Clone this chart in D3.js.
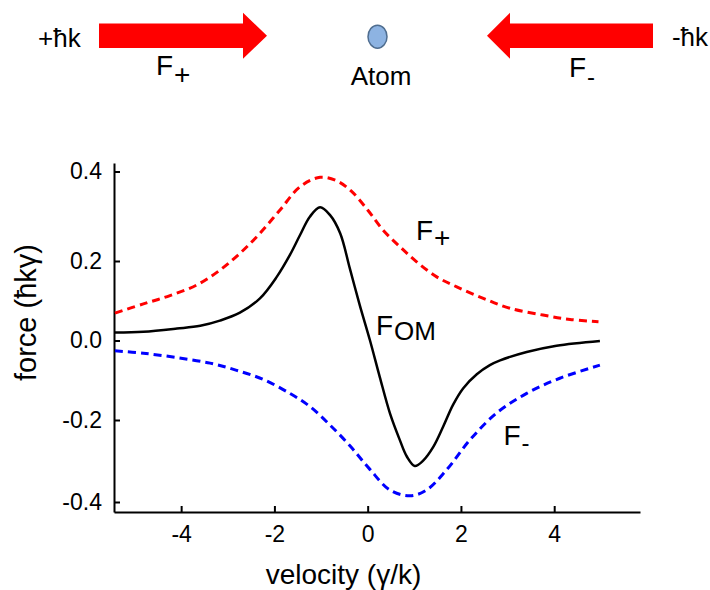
<!DOCTYPE html>
<html>
<head>
<meta charset="utf-8">
<script src="https://cdn.jsdelivr.net/npm/d3@7"></script>
<style>
  body { margin: 0; background: #fff; }
  text { font-family: "Liberation Sans", Arial, sans-serif; fill: #000; }
</style>
</head>
<body>
<div id="chart"></div>
<script>
// Values (velocity in γ/k, force in ħkγ)
const fPlusV = [-5.42, -4.81, -4.24, -3.66, -3.17, -2.74, -2.31, -1.88, -1.45, -1.02, -0.66, -0.35, 0.0, 0.33, 0.69, 1.05, 1.48, 1.91, 2.48, 3.05, 3.76, 4.34, 4.95];
const fPlusF = [0.069, 0.092, 0.113, 0.140, 0.177, 0.217, 0.262, 0.314, 0.366, 0.387, 0.379, 0.356, 0.314, 0.269, 0.232, 0.198, 0.160, 0.135, 0.106, 0.081, 0.064, 0.053, 0.047];

const fOmV = [-5.42, -4.81, -4.09, -3.59, -3.17, -2.74, -2.31, -1.95, -1.67, -1.45, -1.24, -1.02, -0.81, -0.59, -0.38, -0.17, 0.05, 0.26, 0.48, 0.69, 0.84, 1.01, 1.19, 1.41, 1.62, 1.83, 2.05, 2.34, 2.62, 2.84, 3.41, 4.05, 4.98];
const fOmF = [0.020, 0.022, 0.030, 0.037, 0.050, 0.070, 0.106, 0.160, 0.213, 0.258, 0.299, 0.320, 0.303, 0.262, 0.180, 0.089, 0.0, -0.092, -0.184, -0.249, -0.289, -0.312, -0.299, -0.265, -0.216, -0.162, -0.120, -0.085, -0.062, -0.050, -0.029, -0.013, -0.001];

const fMinusV = [-5.42, -4.81, -4.09, -3.38, -2.81, -2.24, -1.67, -1.24, -0.81, -0.38, 0.03, 0.48, 0.91, 1.26, 1.69, 2.19, 2.76, 3.41, 4.12, 4.98];
const fMinusF = [-0.026, -0.032, -0.043, -0.057, -0.075, -0.098, -0.133, -0.166, -0.212, -0.263, -0.318, -0.371, -0.385, -0.371, -0.322, -0.249, -0.183, -0.133, -0.095, -0.062];

const xTicks = [-4, -2, 0, 2, 4];
const yTicks = [-0.4, -0.2, 0.0, 0.2, 0.4];

const width = 710, height = 590;

const svg = d3.select("#chart").append("svg")
    .attr("width", width)
    .attr("height", height);

// --- top sketch: two beams and the atom ---
const sketch = svg.append("g").attr("class", "sketch");

function arrowPath(tail, base, tip, cy, shaftH, headH) {
  return d3.line()([
    [tail, cy - shaftH / 2], [base, cy - shaftH / 2], [base, cy - headH / 2],
    [tip, cy], [base, cy + headH / 2], [base, cy + shaftH / 2], [tail, cy + shaftH / 2]
  ]) + "Z";
}
sketch.append("path").attr("d", arrowPath(99, 243, 267, 35.7, 24.5, 46)).attr("fill", "#ff0000");
sketch.append("path").attr("d", arrowPath(653, 510, 487, 35.7, 24.5, 46)).attr("fill", "#ff0000");

sketch.append("ellipse")
    .attr("cx", 377.5).attr("cy", 36.7).attr("rx", 9.5).attr("ry", 11.5)
    .attr("fill", "#8db3e2").attr("stroke", "#4f6d8f").attr("stroke-width", 1.5);

sketch.append("text").attr("x", 38).attr("y", 46.5).style("font-size", "26px").text("+ħk");
sketch.append("text").attr("x", 708).attr("y", 45.5).attr("text-anchor", "end").style("font-size", "26px").text("-ħk");
sketch.append("text").attr("x", 381).attr("y", 85).attr("text-anchor", "middle").style("font-size", "26px").text("Atom");

function subLabel(g, x, y, main, sub, dy, subSize) {
  const t = g.append("text").attr("x", x).attr("y", y).style("font-size", "28px");
  t.append("tspan").text(main);
  t.append("tspan").attr("dx", 1).attr("dy", dy).style("font-size", subSize + "px").text(sub);
  return t;
}
subLabel(sketch, 156, 75, "F", "+", 9, 28);
subLabel(sketch, 569, 76.5, "F", "-", 8, 24);

// --- plot ---
const x = d3.scaleLinear().domain([-5.44, 5.84]).range([114, 640]);
// tick spacing in the original is slightly uneven, so the y scale is piecewise
const y = d3.scaleLinear()
    .domain([-0.425, -0.4, -0.2, 0.0, 0.2, 0.4, 0.419])
    .range([512, 502, 420, 340.5, 261, 171.5, 163]);

const xAxis = svg.append("g")
    .attr("transform", "translate(0,512)")
    .call(d3.axisBottom(x).tickValues(xTicks).tickSizeInner(-6).tickSizeOuter(0).tickPadding(14)
      .tickFormat(d3.format("d")));
const yAxis = svg.append("g")
    .attr("transform", "translate(114,0)")
    .call(d3.axisLeft(y).tickValues(yTicks).tickSizeInner(-6).tickSizeOuter(0).tickPadding(12)
      .tickFormat(d3.format(".1f")));

[xAxis, yAxis].forEach(a => {
  a.selectAll("path.domain").attr("stroke", "#000").attr("stroke-width", 2);
  a.selectAll(".tick line").attr("stroke", "#000").attr("stroke-width", 2);
  a.selectAll(".tick text")
      .style("font-family", '"Liberation Sans", Arial, sans-serif')
      .style("font-size", "23px").attr("fill", "#000");
});
// plain hyphen minus like the original
xAxis.selectAll(".tick text").text(d => String(d).replace("−", "-"));
yAxis.selectAll(".tick text").text(d => d3.format(".1f")(d).replace("−", "-"));

const line = d3.line()
    .x(d => x(d[0]))
    .y(d => y(d[1]))
    .curve(d3.curveCatmullRom.alpha(0.5));

const series = [
  { v: fPlusV, f: fPlusF, color: "#ff0000", dash: "8,5", w: 3 },
  { v: fMinusV, f: fMinusF, color: "#0000ff", dash: "8,5", w: 3 },
  { v: fOmV, f: fOmF, color: "#000000", dash: null, w: 2.5 }
];

svg.append("g").attr("class", "curves")
  .selectAll("path")
  .data(series)
  .enter().append("path")
    .attr("d", s => line(s.v.map((v, i) => [v, s.f[i]])))
    .attr("fill", "none")
    .attr("stroke", s => s.color)
    .attr("stroke-width", s => s.w)
    .attr("stroke-dasharray", s => s.dash);

const labels = svg.append("g").attr("class", "labels");
subLabel(labels, 416, 240, "F", "+", 7, 28);
subLabel(labels, 376, 335, "F", "OM", 5, 26);
subLabel(labels, 503.5, 445, "F", "-", 6, 24);

svg.append("text")
    .attr("transform", "translate(36,312.5) rotate(-90)")
    .attr("text-anchor", "middle")
    .style("font-size", "29px")
    .text("force (ħkγ)");

svg.append("text")
    .attr("x", 343.5).attr("y", 583.5)
    .attr("text-anchor", "middle")
    .style("font-size", "28px")
    .text("velocity (γ/k)");
</script>
</body>
</html>
